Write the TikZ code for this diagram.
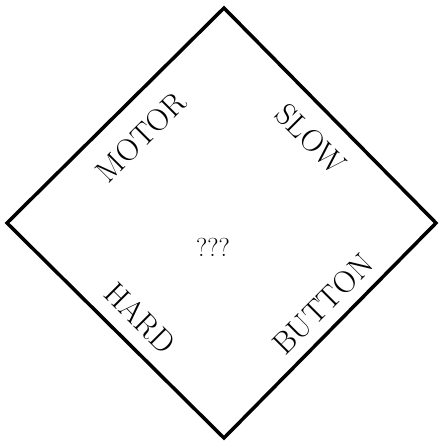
\documentclass[tikz,border=0pt]{standalone}
\usepackage{tikz}
\tikzset{lbl/.style={font=\fontsize{31}{36}\selectfont, inner sep=0pt}}
\begin{document}
\begin{tikzpicture}[x=1pt,y=-1pt]
    \useasboundingbox (0,0) rectangle (440,442);
    % Diamond
    \draw[line width=3.5pt, line join=miter] (224,8) -- (436,223) -- (224,438) -- (7,223) -- cycle;

    % Labels
    \node[lbl, rotate=45] (motor) at (141,137) {MOTOR};
    \node[lbl, rotate=-45] (slow) at (311,139) {SLOW};
    \node[lbl, rotate=-45] (hard) at (140,318) {HARD};
    \node[lbl, rotate=45] (button) at (323,304) {BUTTON};
    \node[font=\fontsize{26}{30}\selectfont] (mystery) at (213,247) {???};
\end{tikzpicture}
\end{document}
